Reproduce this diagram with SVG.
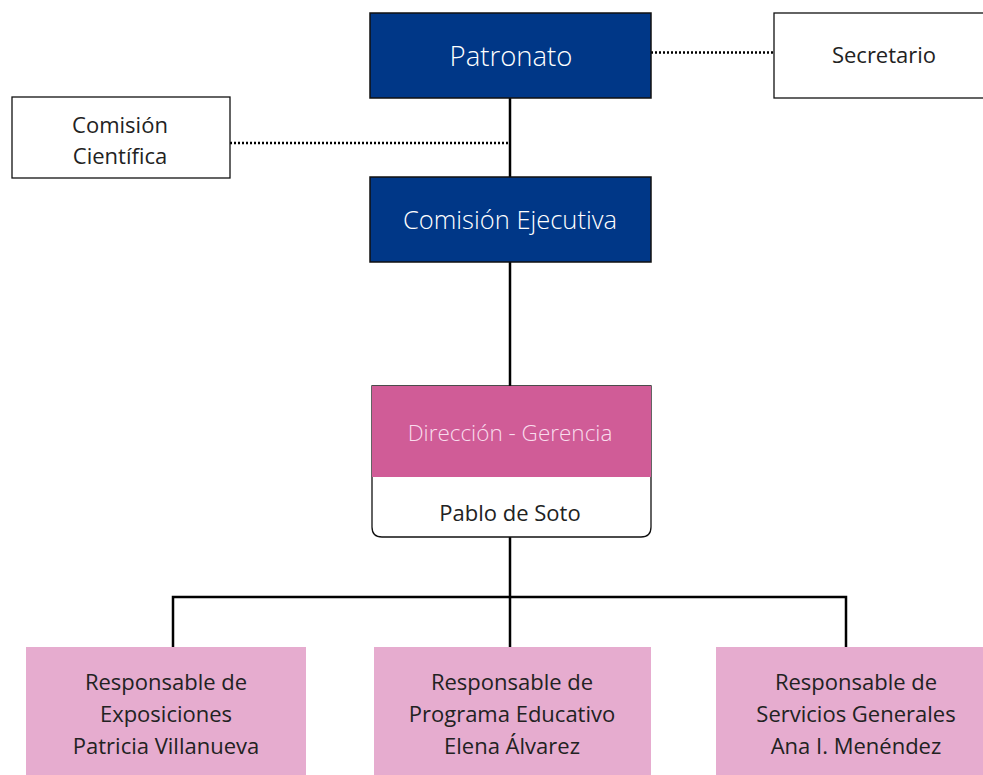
<svg xmlns="http://www.w3.org/2000/svg" width="983" height="775" viewBox="0 0 983 775">
<style>
.t{font-family:"Open Sans","Noto Sans","Liberation Sans",sans-serif;text-anchor:middle;fill:#222222;font-weight:400;font-size:22px}
.w{fill:#ffffff;font-weight:300}
.dark{fill:#003787;stroke:#111;stroke-width:1.5}
.box{fill:#ffffff;stroke:#111;stroke-width:1.3}
.resp{fill:#e6accf}
.solid{stroke:#000;stroke-width:2.5;fill:none}
.dot{stroke:#000;stroke-width:2.5;stroke-dasharray:2 2;fill:none}
</style>
<rect width="983" height="775" fill="#ffffff"/>
<g id="connectors">
<line class="dot" x1="651" y1="52.5" x2="774" y2="52.5"/>
<line class="dot" x1="230" y1="143" x2="510" y2="143"/>
<line class="solid" x1="510" y1="98" x2="510" y2="177"/>
<line class="solid" x1="510" y1="262" x2="510" y2="386"/>
<line class="solid" x1="510" y1="537" x2="510" y2="647"/>
<polyline class="solid" points="173,647 173,597 846,597 846,647"/>
</g>
<g id="patronato">
<rect class="dark" x="370" y="13" width="281" height="85"/>
<text class="t w" x="511" y="66" style="font-size:27.5px">Patronato</text>
</g>
<g id="secretario">
<rect class="box" x="774" y="13" width="222" height="85"/>
<text class="t" x="884" y="63">Secretario</text>
</g>
<g id="comision-cientifica">
<rect class="box" x="12" y="97" width="218" height="81"/>
<text class="t" x="120" y="133">Comisión</text>
<text class="t" x="120" y="164">Científica</text>
</g>
<g id="comision-ejecutiva">
<rect class="dark" x="370" y="177" width="281" height="85"/>
<text class="t w" x="510" y="229" style="font-size:25.5px">Comisión Ejecutiva</text>
</g>
<g id="direccion">
<path d="M372,386 H651 V527 Q651,537 641,537 H382 Q372,537 372,527 Z" fill="#ffffff" stroke="#111" stroke-width="1.3"/>
<rect x="372" y="386" width="279" height="91" fill="#d05c97"/>
<text class="t" x="510" y="441" style="fill:#f9dced;font-weight:300;font-size:22.5px">Dirección - Gerencia</text>
<text class="t" x="510" y="521">Pablo de Soto</text>
</g>
<g id="resp-exposiciones">
<rect class="resp" x="26" y="647" width="280" height="130"/>
<text class="t" x="166" y="690">Responsable de</text>
<text class="t" x="166" y="722">Exposiciones</text>
<text class="t" x="166" y="754">Patricia Villanueva</text>
</g>
<g id="resp-programa">
<rect class="resp" x="374" y="647" width="277" height="130"/>
<text class="t" x="512" y="690">Responsable de</text>
<text class="t" x="512" y="722">Programa Educativo</text>
<text class="t" x="512" y="754">Elena Álvarez</text>
</g>
<g id="resp-servicios">
<rect class="resp" x="716" y="647" width="280" height="130"/>
<text class="t" x="856" y="690">Responsable de</text>
<text class="t" x="856" y="722">Servicios Generales</text>
<text class="t" x="856" y="754">Ana I. Menéndez</text>
</g>
</svg>
